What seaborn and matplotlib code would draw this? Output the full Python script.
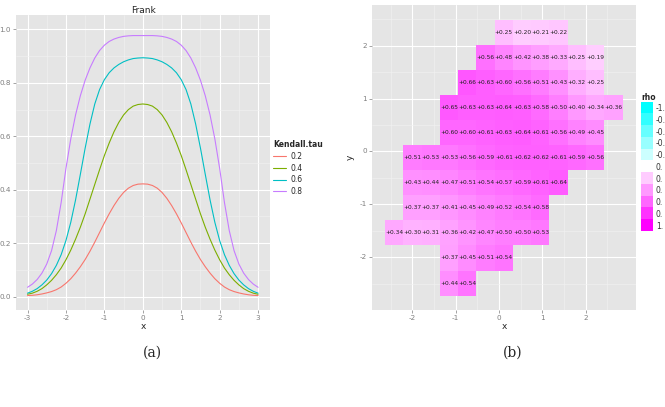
import numpy as np
import pandas as pd
import matplotlib
matplotlib.use("Agg")
import matplotlib.pyplot as plt
import seaborn as sns
from matplotlib.colors import LinearSegmentedColormap
from matplotlib.lines import Line2D

# ---- panel (a): Frank, one curve per Kendall tau (step 0.125)
x_vals = [-3.0, -2.875, -2.75, -2.625, -2.5, -2.375, -2.25, -2.125, -2.0, -1.875, -1.75, -1.625,
          -1.5, -1.375, -1.25, -1.125, -1.0, -0.875, -0.75, -0.625, -0.5, -0.375, -0.25, -0.125,
          0.0, 0.125, 0.25, 0.375, 0.5, 0.625, 0.75, 0.875, 1.0, 1.125, 1.25, 1.375, 1.5,
          1.625, 1.75, 1.875, 2.0, 2.125, 2.25, 2.375, 2.5, 2.625, 2.75, 2.875, 3.0]
tau_levels = ["0.2", "0.4", "0.6", "0.8"]
curve_02 = [0.004, 0.005, 0.007, 0.010, 0.014, 0.019, 0.026, 0.036, 0.050, 0.067, 0.088, 0.112,
            0.139, 0.170, 0.204, 0.240, 0.276, 0.310, 0.341, 0.368, 0.390, 0.406, 0.416, 0.421,
            0.422, 0.421, 0.416, 0.406, 0.390, 0.368, 0.341, 0.310, 0.276, 0.240, 0.204, 0.170,
            0.139, 0.112, 0.088, 0.067, 0.050, 0.036, 0.026, 0.019, 0.014, 0.010, 0.007, 0.005, 0.004]
curve_04 = [0.009, 0.013, 0.020, 0.030, 0.044, 0.061, 0.082, 0.107, 0.138, 0.174, 0.215, 0.260,
            0.310, 0.365, 0.420, 0.475, 0.528, 0.575, 0.617, 0.652, 0.680, 0.700, 0.713, 0.719,
            0.721, 0.719, 0.713, 0.700, 0.680, 0.652, 0.617, 0.575, 0.528, 0.475, 0.420, 0.365,
            0.310, 0.260, 0.215, 0.174, 0.138, 0.107, 0.082, 0.061, 0.044, 0.030, 0.020, 0.013, 0.009]
curve_06 = [0.013, 0.020, 0.030, 0.044, 0.062, 0.086, 0.117, 0.157, 0.210, 0.278, 0.362, 0.458,
            0.556, 0.646, 0.721, 0.775, 0.812, 0.838, 0.856, 0.869, 0.879, 0.886, 0.891, 0.893,
            0.894, 0.893, 0.891, 0.886, 0.879, 0.869, 0.856, 0.838, 0.812, 0.775, 0.721, 0.646,
            0.556, 0.458, 0.362, 0.278, 0.210, 0.157, 0.117, 0.086, 0.062, 0.044, 0.030, 0.020, 0.013]
curve_08 = [0.035, 0.047, 0.064, 0.088, 0.122, 0.172, 0.247, 0.352, 0.480, 0.590, 0.680, 0.752,
            0.810, 0.856, 0.893, 0.921, 0.941, 0.955, 0.964, 0.970, 0.974, 0.976, 0.977, 0.977,
            0.977, 0.977, 0.977, 0.976, 0.974, 0.970, 0.964, 0.955, 0.941, 0.921, 0.893, 0.856,
            0.810, 0.752, 0.680, 0.590, 0.480, 0.352, 0.247, 0.172, 0.122, 0.088, 0.064, 0.047, 0.035]
tau_colors = ["#F8766D", "#7CAE00", "#00BFC4", "#C77CFF"]

# ---- panel (b): rho per tile
x_centers = [-2.42, -2.0, -1.58, -1.16, -0.73, -0.31, 0.11, 0.53, 0.95, 1.37, 1.79, 2.22, 2.64]
y_centers = [2.25, 1.78, 1.31, 0.84, 0.36, -0.12, -0.59, -1.06, -1.54, -2.01, -2.49]
row_start = [6, 5, 4, 3, 3, 1, 1, 1, 0, 3, 3]
rho_rows = [
    [0.25, 0.20, 0.21, 0.22],
    [0.56, 0.48, 0.42, 0.38, 0.33, 0.25, 0.19],
    [0.66, 0.63, 0.60, 0.56, 0.51, 0.43, 0.32, 0.25],
    [0.65, 0.63, 0.63, 0.64, 0.63, 0.58, 0.50, 0.40, 0.34, 0.36],
    [0.60, 0.60, 0.61, 0.63, 0.64, 0.61, 0.56, 0.49, 0.45],
    [0.51, 0.53, 0.53, 0.56, 0.59, 0.61, 0.62, 0.62, 0.61, 0.59, 0.56],
    [0.43, 0.44, 0.47, 0.51, 0.54, 0.57, 0.59, 0.61, 0.64],
    [0.37, 0.37, 0.41, 0.45, 0.49, 0.52, 0.54, 0.58],
    [0.34, 0.30, 0.31, 0.36, 0.42, 0.47, 0.50, 0.50, 0.53],
    [0.37, 0.45, 0.51, 0.54],
    [0.44, 0.54],
]
rho_legend = [-1.0, -0.8, -0.6, -0.4, -0.2, 0.0, 0.2, 0.4, 0.6, 0.8, 1.0]
# the legend labels as they show in the (cropped) picture
rho_legend_labels = ["-1.", "-0.", "-0.", "-0.", "-0.", "0.", "0.", "0.", "0.", "0.", "1."]

BG = "#E5E5E5"
TICK = "#7F7F7F"

sns.set_theme(style="darkgrid", rc={
    "axes.facecolor": BG, "grid.color": "white", "axes.edgecolor": BG,
    "xtick.color": TICK, "ytick.color": TICK,
})
plt.rcParams["font.family"] = ["DejaVu Sans"]

fig = plt.figure(figsize=(6.65, 4.07), dpi=100)


def gg_axes(ax):
    for s in ax.spines.values():
        s.set_visible(False)
    ax.grid(which="major", color="white", linewidth=0.8)
    ax.grid(which="minor", color="#F2F2F2", linewidth=0.4)
    ax.tick_params(which="major", length=2, width=0.5, color=TICK, labelcolor=TICK,
                   labelsize=5.2, pad=1.5, bottom=True, left=True)
    ax.tick_params(which="minor", length=0)
    ax.set_axisbelow(True)


# ---------------- panel (a)
ax1 = fig.add_axes([16 / 665, 1 - 310 / 407, 254 / 665, 295 / 407])
df = pd.DataFrame({
    "x": x_vals * 4,
    "density": curve_02 + curve_04 + curve_06 + curve_08,
    "Kendall.tau": sum([[t] * len(x_vals) for t in tau_levels], []),
})
sns.lineplot(data=df, x="x", y="density", hue="Kendall.tau", palette=tau_colors,
             linewidth=0.8, ax=ax1, legend=False)
ax1.set_xlim(-3.3, 3.31)
ax1.set_ylim(-0.05, 1.054)
ax1.set_xticks([-3, -2, -1, 0, 1, 2, 3])
ax1.set_xticklabels(["-3", "-2", "-1", "0", "1", "2", "3"])
ax1.set_yticks([0, 0.2, 0.4, 0.6, 0.8, 1.0])
ax1.set_yticklabels(["0.0", "0.2", "0.4", "0.6", "0.8", "1.0"])
ax1.set_xticks([-2.5, -1.5, -0.5, 0.5, 1.5, 2.5], minor=True)
ax1.set_yticks([0.1, 0.3, 0.5, 0.7, 0.9], minor=True)
gg_axes(ax1)
ax1.set_xlabel("x", fontsize=6.5, labelpad=1)
ax1.set_ylabel("")
ax1.set_title("Frank", fontsize=6.5, pad=1.5)

handles = [Line2D([], [], color=c, linewidth=0.8) for c in tau_colors]
leg1 = fig.legend(handles, tau_levels, title="Kendall.tau", loc="upper left",
                  bbox_to_anchor=(268 / 665, 1 - 135 / 407), frameon=False,
                  fontsize=5.5, title_fontsize=5.5, handlelength=1.6,
                  handletextpad=0.6, labelspacing=0.35, borderpad=0.2)
leg1.get_title().set_fontweight("bold")
leg1._legend_box.align = "left"

# ---------------- panel (b)
ax2 = fig.add_axes([372 / 665, 1 - 310 / 407, 264 / 665, 305 / 407])
grid = np.full((len(y_centers), len(x_centers)), np.nan)
for r, (start, vals) in enumerate(zip(row_start, rho_rows)):
    grid[r, start:start + len(vals)] = vals

cmap = LinearSegmentedColormap.from_list("cw_m", ["#00FFFF", "#FFFFFF", "#FF00FF"])
sns.heatmap(grid, ax=ax2, cmap=cmap, vmin=-1, vmax=1, cbar=False,
            annot=True, fmt="+.2f", annot_kws={"fontsize": 4.2, "color": "#222222"})

dx = (x_centers[-1] - x_centers[0]) / (len(x_centers) - 1)
dy = (y_centers[0] - y_centers[-1]) / (len(y_centers) - 1)


def to_col(v):
    return (v - x_centers[0]) / dx + 0.5


def to_row(v):
    return (y_centers[0] - v) / dy + 0.5


ax2.set_xlim(to_col(-2.93), to_col(3.16))
ax2.set_ylim(to_row(-3.0), to_row(2.77))
ax2.set_xticks([to_col(v) for v in [-2, -1, 0, 1, 2]])
ax2.set_xticklabels(["-2", "-1", "0", "1", "2"], rotation=0)
ax2.set_yticks([to_row(v) for v in [-2, -1, 0, 1, 2]])
ax2.set_yticklabels(["-2", "-1", "0", "1", "2"], rotation=0)
ax2.set_xticks([to_col(v) for v in [-2.5, -1.5, -0.5, 0.5, 1.5, 2.5]], minor=True)
ax2.set_yticks([to_row(v) for v in [-2.5, -1.5, -0.5, 0.5, 1.5, 2.5]], minor=True)
gg_axes(ax2)
ax2.set_xlabel("x", fontsize=6.5, labelpad=1)
ax2.set_ylabel("y", fontsize=6.5, labelpad=4)

# rho legend: a one-column heatmap of the key values
axl = fig.add_axes([641 / 665, 1 - 231 / 407, 12 / 665, 129.3 / 407])
sns.heatmap(np.array(rho_legend).reshape(-1, 1), ax=axl, cmap=cmap, vmin=-1, vmax=1,
            cbar=False)
axl.grid(False)
axl.set_xticks([])
axl.yaxis.tick_right()
axl.set_yticks(np.arange(len(rho_legend)) + 0.5)
axl.set_yticklabels(rho_legend_labels, rotation=0, fontsize=5.5, color="#333333")
axl.tick_params(length=0, pad=2)
for s in axl.spines.values():
    s.set_visible(False)
fig.text(641 / 665, 1 - 97 / 407, "rho", fontweight="bold", fontsize=5.5,
         va="center", ha="left")

# captions
fig.text(152 / 665, 1 - 353 / 407, "(a)", ha="center", va="center",
         fontsize=10, family="DejaVu Serif")
fig.text(513 / 665, 1 - 353 / 407, "(b)", ha="center", va="center",
         fontsize=10, family="DejaVu Serif")

fig.savefig("out.png", dpi=100, facecolor="white")
